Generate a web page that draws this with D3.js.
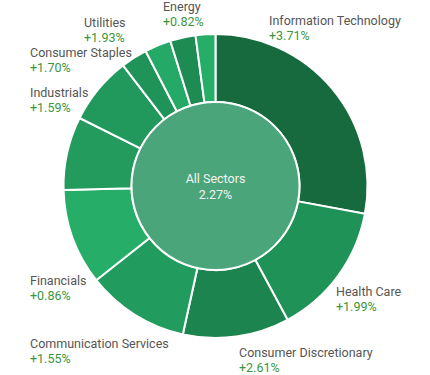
<!DOCTYPE html>
<html>
<head>
<meta charset="utf-8">
<script src="https://cdn.jsdelivr.net/npm/d3@7"></script>
<style>
  body { margin: 0; background: #fff; }
  text { font-family: Roboto, "Noto Sans", sans-serif; }
</style>
</head>
<body>
<div id="chart"></div>
<script>
// sector weights (% of index) and daily change, clockwise from 12 o'clock
const sectors = ["Information Technology", "Health Care", "Consumer Discretionary",
  "Communication Services", "Financials", "Industrials", "Consumer Staples",
  "Utilities", "Real Estate", "Materials", "Energy"];
const weights = [27.9, 14.2, 11.3, 10.9, 10.2, 7.8, 7.2, 2.8, 2.8, 2.7, 2.1];
const changes = [3.71, 1.99, 2.61, 1.55, 0.86, 1.59, 1.70, 1.93, 1.0, 2.3, 0.82];
const shown = [true, true, true, true, true, true, true, true, false, false, true];
const total = {name: "All Sectors", change: 2.27};

// where each label block sits (left edge, first baseline)
const labelPos = [[269, 25], [336, 296], [239, 357], [30, 348], [30, 285],
  [30, 97], [30, 57], [84, 26.5], null, null, [163, 11]];

const width = 430, height = 375;
const cx = 215.5, cy = 186, rOuter = 152, rInner = 84;

const data = sectors.map((s, i) => ({name: s, weight: weights[i], change: changes[i], shown: shown[i], pos: labelPos[i]}));

const color = d3.scaleLinear()
    .domain([0.8, 3.7])
    .range(["#26ae69", "#166a3e"]);

const svg = d3.select("#chart").append("svg")
    .attr("width", width)
    .attr("height", height)
    .attr("viewBox", [0, 0, width, height]);

const pie = d3.pie().sort(null).value(d => d.weight);
const arc = d3.arc().innerRadius(rInner).outerRadius(rOuter);

const g = svg.append("g").attr("transform", `translate(${cx},${cy})`);

g.selectAll("path")
  .data(pie(data))
  .join("path")
    .attr("d", arc)
    .attr("fill", d => color(d.data.change))
    .attr("stroke", "#fff")
    .attr("stroke-width", 2);

g.append("circle")
    .attr("r", rInner)
    .attr("fill", "#4ba57a")
    .attr("stroke", "#fff")
    .attr("stroke-width", 2);

g.append("text")
    .attr("text-anchor", "middle")
    .attr("y", -3)
    .attr("fill", "#f2f2f2")
    .attr("font-size", 12.5)
    .text(total.name);
g.append("text")
    .attr("text-anchor", "middle")
    .attr("y", 13)
    .attr("fill", "#f2f2f2")
    .attr("font-size", 12.5)
    .text(total.change.toFixed(2) + "%");

const fmt = d3.format("+.2f");

const labels = svg.append("g")
  .selectAll("g")
  .data(data.filter(d => d.shown))
  .join("g")
    .attr("transform", d => `translate(${d.pos[0]},${d.pos[1]})`);

labels.append("text")
    .attr("fill", "#555")
    .attr("font-size", 12.5)
    .text(d => d.name);
labels.append("text")
    .attr("y", 15)
    .attr("fill", "#3a963c")
    .attr("font-size", 12.5)
    .text(d => fmt(d.change) + "%");
</script>
</body>
</html>
